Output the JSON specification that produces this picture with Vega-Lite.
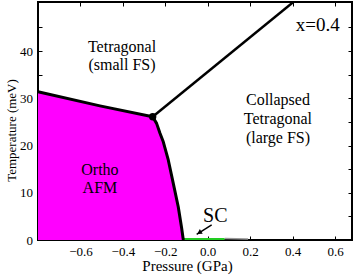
{
  "$schema": "https://vega.github.io/schema/vega-lite/v6.json",
  "width": 314,
  "height": 238,
  "autosize": {"type": "none"},
  "padding": {"left": 38, "top": 2, "right": 2, "bottom": 37},
  "background": "white",
  "config": {
    "view": {"stroke": "black", "strokeWidth": 2},
    "font": "Liberation Serif, serif",
    "axis": {
      "grid": false,
      "domain": false,
      "tickColor": "black",
      "tickWidth": 1,
      "tickSize": -4,
      "labelFont": "Liberation Serif, serif",
      "labelFontSize": 13,
      "labelColor": "black",
      "titleFont": "Liberation Serif, serif",
      "titleFontWeight": "normal",
      "titleColor": "black"
    }
  },
  "datasets": {
    "afm": [
      {"P": -0.8, "T": 31.4},
      {"P": -0.508, "T": 28.4},
      {"P": -0.2595, "T": 26.1},
      {"P": -0.241, "T": 24.7},
      {"P": -0.225, "T": 22.6},
      {"P": -0.2095, "T": 20.8},
      {"P": -0.186, "T": 16.95},
      {"P": -0.1624, "T": 12.0},
      {"P": -0.139, "T": 7.05},
      {"P": -0.123, "T": 2.54},
      {"P": -0.115, "T": 0.0}
    ],
    "tline": [
      {"P": -0.2595, "T": 26.1},
      {"P": 0.42, "T": 51.0}
    ],
    "triple": [
      {"P": -0.2595, "T": 26.1}
    ],
    "sc": [
      {"P": -0.118, "T": 0.45},
      {"P": 0.08, "T": 0.45}
    ],
    "scgray": [
      {"P": 0.08, "T": 0.3},
      {"P": 0.19, "T": 0.2}
    ],
    "arrow": [
      {"P": 0.0186, "T": 3.18, "P2": -0.0521, "T2": 1.21}
    ],
    "arrowhead": [
      {"P": -0.0399, "T": 1.55}
    ],
    "labels": [
      {"P": -0.404, "T": 39.8, "text": "Tetragonal"},
      {"P": -0.404, "T": 36.0, "text": "(small FS)"},
      {"P": 0.331, "T": 28.6, "text": "Collapsed"},
      {"P": 0.331, "T": 24.6, "text": "Tetragonal"},
      {"P": 0.331, "T": 20.6, "text": "(large FS)"},
      {"P": -0.508, "T": 13.75, "text": "Ortho"},
      {"P": -0.508, "T": 9.9, "text": "AFM"}
    ],
    "xlab": [
      {"P": 0.519, "T": 44.3, "text": "x=0.4"}
    ],
    "sclab": [
      {"P": 0.0355, "T": 3.88, "text": "SC"}
    ]
  },
  "layer": [
    {
      "data": {"name": "afm"},
      "mark": {"type": "area", "color": "#ff00ff"},
      "encoding": {
        "x": {
          "field": "P", "type": "quantitative",
          "scale": {"domain": [-0.8, 0.68], "nice": false, "zero": false},
          "axis": {
            "orient": "bottom",
            "values": [-0.6, -0.4, -0.2, 0, 0.2, 0.4, 0.6],
            "format": ".1f",
            "labelPadding": 9.5,
            "title": "Pressure (GPa)",
            "titleFontSize": 15,
            "titleX": 149,
            "titleY": 30,
            "titleAlign": "center",
            "titleBaseline": "alphabetic"
          }
        },
        "y": {
          "field": "T", "type": "quantitative",
          "scale": {"domain": [0, 50.4], "nice": false},
          "axis": {
            "orient": "left",
            "values": [0, 5, 10, 15, 20, 25, 30, 35, 40, 45],
            "labelExpr": "datum.value % 10 == 0 ? datum.label : ''",
            "labelPadding": 9.5,
            "title": "Temperature (meV)",
            "titleFontSize": 13,
            "titleAngle": -90,
            "titleX": -27,
            "titleY": 128,
            "titleAlign": "center",
            "titleBaseline": "middle"
          }
        }
      }
    },
    {
      "data": {"name": "sc"},
      "mark": {"type": "area", "color": "#22cc22"},
      "encoding": {
        "x": {
          "field": "P", "type": "quantitative",
          "scale": {"domain": [-0.8, 0.68], "nice": false, "zero": false},
          "axis": {
            "orient": "top",
            "values": [-0.6, -0.4, -0.2, 0, 0.2, 0.4, 0.6],
            "labels": false,
            "title": null
          }
        },
        "y": {
          "field": "T", "type": "quantitative",
          "scale": {"domain": [0, 50.4], "nice": false},
          "axis": {
            "orient": "right",
            "values": [0, 5, 10, 15, 20, 25, 30, 35, 40, 45],
            "labels": false,
            "title": null
          }
        }
      }
    },
    {
      "data": {"name": "scgray"},
      "mark": {"type": "line", "color": "#999999", "strokeWidth": 1.5},
      "encoding": {
        "x": {"field": "P", "type": "quantitative", "scale": {"domain": [-0.8, 0.68], "nice": false, "zero": false}, "axis": null},
        "y": {"field": "T", "type": "quantitative", "scale": {"domain": [0, 50.4], "nice": false}, "axis": null}
      }
    },
    {
      "data": {"name": "afm"},
      "mark": {"type": "line", "color": "black", "strokeWidth": 3, "strokeJoin": "round"},
      "encoding": {
        "x": {"field": "P", "type": "quantitative", "scale": {"domain": [-0.8, 0.68], "nice": false, "zero": false}, "axis": null},
        "y": {"field": "T", "type": "quantitative", "scale": {"domain": [0, 50.4], "nice": false}, "axis": null}
      }
    },
    {
      "data": {"name": "tline"},
      "mark": {"type": "line", "color": "black", "strokeWidth": 2.5, "clip": true},
      "encoding": {
        "x": {"field": "P", "type": "quantitative", "scale": {"domain": [-0.8, 0.68], "nice": false, "zero": false}, "axis": null},
        "y": {"field": "T", "type": "quantitative", "scale": {"domain": [0, 50.4], "nice": false}, "axis": null}
      }
    },
    {
      "data": {"name": "triple"},
      "mark": {"type": "point", "filled": true, "color": "black", "size": 55, "opacity": 1},
      "encoding": {
        "x": {"field": "P", "type": "quantitative", "scale": {"domain": [-0.8, 0.68], "nice": false, "zero": false}, "axis": null},
        "y": {"field": "T", "type": "quantitative", "scale": {"domain": [0, 50.4], "nice": false}, "axis": null}
      }
    },
    {
      "data": {"name": "arrow"},
      "mark": {"type": "rule", "color": "black", "strokeWidth": 1.5},
      "encoding": {
        "x": {"field": "P", "type": "quantitative", "scale": {"domain": [-0.8, 0.68], "nice": false, "zero": false}, "axis": null},
        "y": {"field": "T", "type": "quantitative", "scale": {"domain": [0, 50.4], "nice": false}, "axis": null},
        "x2": {"field": "P2"},
        "y2": {"field": "T2"}
      }
    },
    {
      "data": {"name": "arrowhead"},
      "mark": {"type": "point", "shape": "triangle-right", "filled": true, "color": "black", "size": 30, "angle": 148, "opacity": 1},
      "encoding": {
        "x": {"field": "P", "type": "quantitative", "scale": {"domain": [-0.8, 0.68], "nice": false, "zero": false}, "axis": null},
        "y": {"field": "T", "type": "quantitative", "scale": {"domain": [0, 50.4], "nice": false}, "axis": null}
      }
    },
    {
      "data": {"name": "labels"},
      "mark": {"type": "text", "font": "Liberation Serif, serif", "fontSize": 16, "align": "center", "baseline": "alphabetic", "color": "black"},
      "encoding": {
        "x": {"field": "P", "type": "quantitative", "scale": {"domain": [-0.8, 0.68], "nice": false, "zero": false}, "axis": null},
        "y": {"field": "T", "type": "quantitative", "scale": {"domain": [0, 50.4], "nice": false}, "axis": null},
        "text": {"field": "text"}
      }
    },
    {
      "data": {"name": "xlab"},
      "mark": {"type": "text", "font": "Liberation Serif, serif", "fontSize": 19, "align": "center", "baseline": "alphabetic", "color": "black"},
      "encoding": {
        "x": {"field": "P", "type": "quantitative", "scale": {"domain": [-0.8, 0.68], "nice": false, "zero": false}, "axis": null},
        "y": {"field": "T", "type": "quantitative", "scale": {"domain": [0, 50.4], "nice": false}, "axis": null},
        "text": {"field": "text"}
      }
    },
    {
      "data": {"name": "sclab"},
      "mark": {"type": "text", "font": "Liberation Serif, serif", "fontSize": 20, "align": "center", "baseline": "alphabetic", "color": "black"},
      "encoding": {
        "x": {"field": "P", "type": "quantitative", "scale": {"domain": [-0.8, 0.68], "nice": false, "zero": false}, "axis": null},
        "y": {"field": "T", "type": "quantitative", "scale": {"domain": [0, 50.4], "nice": false}, "axis": null},
        "text": {"field": "text"}
      }
    }
  ],
  "resolve": {"axis": {"x": "independent", "y": "independent"}}
}
